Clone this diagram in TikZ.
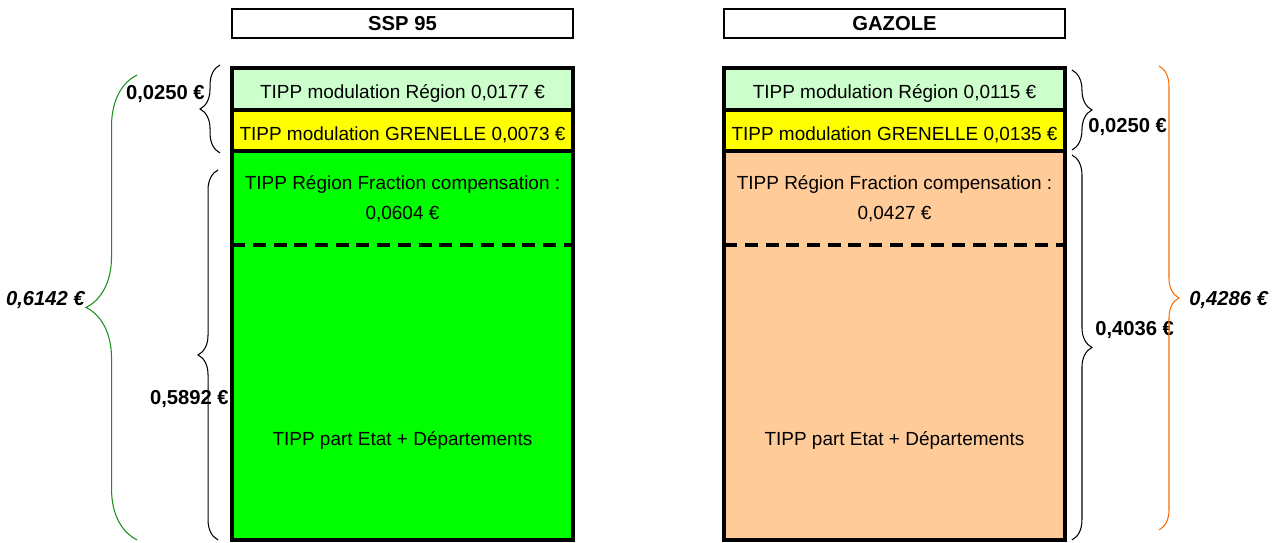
\documentclass[tikz,border=0pt]{standalone}
\usepackage{fontspec}
\setmainfont{Liberation Sans}
\usetikzlibrary{positioning,calc,decorations.pathreplacing}
\definecolor{regionvert}{HTML}{CCFFCC}
\definecolor{grenjaune}{HTML}{FFFF00}
\definecolor{sspvert}{HTML}{00FF00}
\definecolor{gazpeche}{HTML}{FFCC99}
\definecolor{totalvert}{HTML}{1E8C1E}
\definecolor{totalorange}{HTML}{FF6A00}

\begin{document}
\begin{tikzpicture}[x=0.02cm, y=-0.02cm,
    head/.style={draw=black, line width=1.2pt, fill=white, minimum width=6.82cm, minimum height=0.58cm, inner sep=0pt, font=\fontsize{11.5}{13}\selectfont\bfseries},
    part/.style={draw=black, line width=2.4pt, minimum width=6.82cm, inner sep=0pt, outer sep=0pt, text height=1.3em, text depth=0.2em, font=\fontsize{10.8}{13}\selectfont},
    txt/.style={align=center, inner sep=0pt, font=\fontsize{10.8}{17}\selectfont},
    val/.style={inner sep=0pt, font=\fontsize{11.5}{13}\selectfont\bfseries},
    total/.style={inner sep=0pt, font=\fontsize{11.5}{13}\selectfont\bfseries\itshape},
    sepline/.style={line width=2.8pt, dash pattern=on 7.4pt off 4.4pt},
    brc/.style={decorate, decoration={brace, amplitude=0.4cm}, semithick},
    bigbrc/.style={decorate, decoration={brace, amplitude=1.02cm}, semithick}]
    \useasboundingbox (0,0) rectangle (1285,543);

    % SSP 95
    \node (ssp-head) [head] at (402.5,23.5) {SSP 95};
    \node (ssp-reg) [part, fill=regionvert, minimum height=0.84cm] at (402.5,89) {TIPP modulation Région 0,0177 €};
    \node (ssp-gren) [part, fill=grenjaune, minimum height=0.82cm, below=0pt of ssp-reg] {TIPP modulation GRENELLE 0,0073 €};
    \node (ssp-main) [part, fill=sspvert, minimum height=7.78cm, below=0pt of ssp-gren] {};
    \node (ssp-frac) [txt] at ($(ssp-main.north)+(0,48)$) {TIPP Région Fraction compensation :\\0,0604 €};
    \node (ssp-etat) [txt] at ($(ssp-main.north)+(0,289)$) {TIPP part Etat + Départements};
    \draw [sepline] ($(ssp-main.north west)+(0,94)$) -- ($(ssp-main.north east)+(0,94)$);

    % GAZOLE
    \node (gaz-head) [head] at (894.5,23.5) {GAZOLE};
    \node (gaz-reg) [part, fill=regionvert, minimum height=0.84cm] at (894.5,89) {TIPP modulation Région 0,0115 €};
    \node (gaz-gren) [part, fill=grenjaune, minimum height=0.82cm, below=0pt of gaz-reg] {TIPP modulation GRENELLE 0,0135 €};
    \node (gaz-main) [part, fill=gazpeche, minimum height=7.78cm, below=0pt of gaz-gren] {};
    \node (gaz-frac) [txt] at ($(gaz-main.north)+(0,48)$) {TIPP Région Fraction compensation :\\0,0427 €};
    \node (gaz-etat) [txt] at ($(gaz-main.north)+(0,289)$) {TIPP part Etat + Départements};
    \draw [sepline] ($(gaz-main.north west)+(0,94)$) -- ($(gaz-main.north east)+(0,94)$);

    % accolades gauche
    \draw [brc] ($(ssp-gren.south west)+(-12,2)$) -- ($(ssp-reg.north west)+(-12,-3)$);
    \node (ssp-mod) [val, anchor=east] at ($(ssp-reg.west)+(-27,5)$) {0,0250 €};
    \draw [brc] ($(ssp-main.south west)+(-14,0)$) -- ($(ssp-main.north west)+(-14,19)$);
    \node (ssp-base) [val, anchor=east] at ($(ssp-main.west)+(-3,54)$) {0,5892 €};
    \draw [bigbrc, draw=totalvert] ($(ssp-main.south west)+(-95,0)$) -- ($(ssp-reg.north west)+(-95,7)$);
    \node (ssp-total) [total, anchor=east] at ($(ssp-main.west)+(-147,-45)$) {0,6142 €};

    % accolades droite
    \draw [brc] ($(gaz-reg.north east)+(7,2)$) -- ($(gaz-gren.south east)+(7,-1)$);
    \node (gaz-mod) [val, anchor=west] at ($(gaz-gren.east)+(23,-3)$) {0,0250 €};
    \draw [brc] ($(gaz-main.north east)+(7,4)$) -- ($(gaz-main.south east)+(7,0)$);
    \node (gaz-base) [val, anchor=west] at ($(gaz-main.east)+(30,-15)$) {0,4036 €};
    \draw [brc, draw=totalorange] ($(gaz-reg.north east)+(94,-2)$) -- ($(gaz-main.south east)+(94,-10)$);
    \node (gaz-total) [total, anchor=west] at ($(gaz-main.east)+(124,-45)$) {0,4286 €};
\end{tikzpicture}
\end{document}
